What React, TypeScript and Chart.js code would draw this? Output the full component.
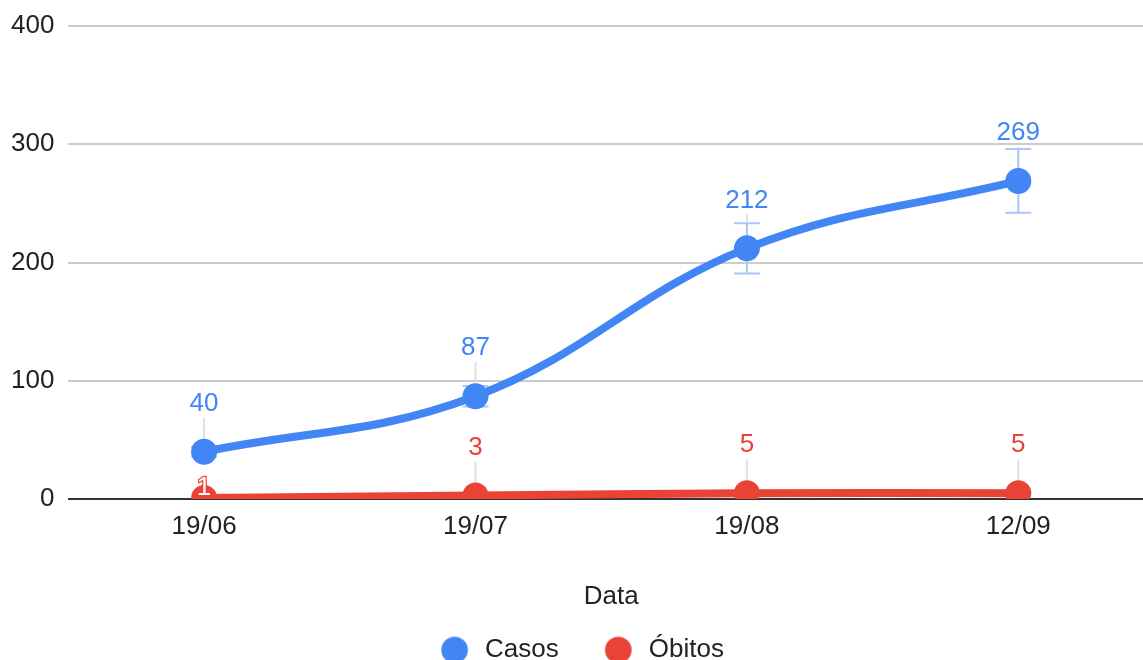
import React, { useEffect, useRef } from 'react';
import { Chart, registerables } from 'chart.js';

Chart.register(...registerables);

const categories = ['19/06', '19/07', '19/08', '12/09'];
const casosValues = [40, 87, 212, 269];
const obitosValues = [1, 3, 5, 5];
const casosErrors = [4, 8.7, 21.2, 26.9];
const yTickValues = [0, 100, 200, 300, 400];
const seriesNames = ['Casos', 'Óbitos'];

const BLUE = '#4285F4';
const RED = '#EA4335';
const TEXT = '#222222';
const FONT = "'Liberation Sans', Arial, sans-serif";
const FONT_SIZE = 26;

function circleImage(color: string, r: number) {
  const c = document.createElement('canvas');
  const size = Math.ceil(r * 2) + 2;
  c.width = size;
  c.height = size;
  const ctx = c.getContext('2d')!;
  ctx.fillStyle = color;
  ctx.beginPath();
  ctx.arc(size / 2, size / 2, r, 0, Math.PI * 2);
  ctx.fill();
  return c;
}

const LABEL_OFFSET = 48;
const POINT_R = 13;

function labelPlacement(chart: any, di: number, i: number) {
  const metas = chart.data.datasets.map((_: any, k: number) => chart.getDatasetMeta(k));
  const pt = metas[di].data[i];
  const ly = pt.y - LABEL_OFFSET;
  const collides = metas.some(
    (m: any, k: number) => k !== di && m.data[i] && Math.abs(m.data[i].y - ly) < POINT_R + 14
  );
  return { pt, ly, inside: collides };
}

const overlayPlugin = {
  id: 'overlay',
  afterLayout(chart: any, _args: any, opts: any) {
    if (chart.legend && opts.legendShift) {
      chart.legend.left += opts.legendShift * 2;
    }
  },
  beforeDatasetsDraw(chart: any, _args: any, opts: any) {
    const ctx = chart.ctx;
    const yScale = chart.scales.y;
    // leader lines
    ctx.save();
    ctx.strokeStyle = '#e0e0e0';
    ctx.lineWidth = 2;
    chart.data.datasets.forEach((ds: any, di: number) => {
      ds.data.forEach((_v: number, i: number) => {
        const { pt, ly, inside } = labelPlacement(chart, di, i);
        if (inside) return;
        ctx.beginPath();
        ctx.moveTo(pt.x, ly + 14);
        ctx.lineTo(pt.x, pt.y);
        ctx.stroke();
      });
    });
    ctx.restore();
    // error bars
    const errs = opts.errors || {};
    Object.keys(errs).forEach((key) => {
      const di = Number(key);
      const meta = chart.getDatasetMeta(di);
      const data = chart.data.datasets[di].data;
      ctx.save();
      ctx.strokeStyle = opts.color;
      ctx.lineWidth = 2;
      meta.data.forEach((pt: any, i: number) => {
        const v = data[i];
        const e = errs[key][i];
        const top = yScale.getPixelForValue(v + e);
        const bot = yScale.getPixelForValue(v - e);
        ctx.beginPath();
        ctx.moveTo(pt.x, top);
        ctx.lineTo(pt.x, bot);
        ctx.moveTo(pt.x - 13, top);
        ctx.lineTo(pt.x + 13, top);
        ctx.moveTo(pt.x - 13, bot);
        ctx.lineTo(pt.x + 13, bot);
        ctx.stroke();
      });
      ctx.restore();
    });
  },
  afterDatasetsDraw(chart: any) {
    const ctx = chart.ctx;
    ctx.save();
    ctx.font = `${FONT_SIZE}px ${FONT}`;
    ctx.textAlign = 'center';
    ctx.textBaseline = 'middle';
    ctx.lineJoin = 'round';
    chart.data.datasets.forEach((ds: any, di: number) => {
      ds.data.forEach((v: number, i: number) => {
        const { pt, ly, inside } = labelPlacement(chart, di, i);
        const text = String(v);
        if (inside) {
          ctx.lineWidth = 2.5;
          ctx.strokeStyle = ds.borderColor;
          ctx.strokeText(text, pt.x, pt.y - 10);
          ctx.fillStyle = '#ffffff';
          ctx.fillText(text, pt.x, pt.y - 10);
        } else {
          ctx.lineWidth = 5;
          ctx.strokeStyle = '#ffffff';
          ctx.strokeText(text, pt.x, ly);
          ctx.fillStyle = ds.borderColor;
          ctx.fillText(text, pt.x, ly);
        }
      });
    });
    ctx.restore();
  },
};

export default function App() {
  const ref = useRef<HTMLCanvasElement | null>(null);

  useEffect(() => {
    if (!ref.current) return;
    const font = { family: FONT, size: FONT_SIZE };
    const chart = new Chart(ref.current, {
      type: 'line',
      data: {
        labels: categories,
        datasets: [
          {
            label: seriesNames[0],
            data: casosValues,
            borderColor: BLUE,
            backgroundColor: BLUE,
            borderWidth: 8,
            tension: 0.4,
            pointRadius: POINT_R,
            pointHoverRadius: POINT_R,
            pointBorderWidth: 0,
            pointBackgroundColor: BLUE,
            clip: 0,
          },
          {
            label: seriesNames[1],
            data: obitosValues,
            borderColor: RED,
            backgroundColor: RED,
            borderWidth: 8,
            tension: 0.4,
            pointRadius: POINT_R,
            pointHoverRadius: POINT_R,
            pointBorderWidth: 0,
            pointBackgroundColor: RED,
            clip: 0,
          },
        ],
      },
      options: {
        responsive: false,
        animation: false,
        events: [],
        layout: { padding: { top: 26, left: -3, right: 0, bottom: -13 } },
        scales: {
          x: {
            type: 'category',
            offset: true,
            grid: { display: false, drawTicks: false },
            border: { display: false },
            ticks: { font, color: TEXT, padding: 12 },
            title: {
              display: true,
              text: 'Data',
              font,
              color: TEXT,
              padding: { top: 27, bottom: -17.5 },
            },
          },
          y: {
            min: 0,
            max: 400,
            afterBuildTicks: (axis: any) => {
              axis.ticks = yTickValues.map((v) => ({ value: v }));
            },
            ticks: { font: { ...font, lineHeight: 0.9 }, color: TEXT, padding: 14 },
            grid: {
              drawTicks: false,
              lineWidth: 2,
              color: (c: any) => (c.tick && c.tick.value === 0 ? '#333333' : '#cccccc'),
            },
            border: { display: false },
          },
        },
        plugins: {
          tooltip: { enabled: false },
          legend: {
            position: 'bottom',
            labels: {
              usePointStyle: true,
              pointStyleWidth: 35,
              boxHeight: 19,
              padding: 42,
              font,
              color: TEXT,
              generateLabels: (ch: any) =>
                ch.data.datasets.map((ds: any, i: number) => ({
                  text: ds.label,
                  pointStyle: circleImage(ds.borderColor, 13.3),
                  fillStyle: ds.borderColor,
                  strokeStyle: ds.borderColor,
                  lineWidth: 0,
                  hidden: false,
                  datasetIndex: i,
                  fontColor: TEXT,
                })),
            },
          },
          overlay: { errors: { 0: casosErrors }, color: '#a9c8fa', legendShift: -1.5 },
        } as any,
      },
      plugins: [overlayPlugin],
    });
    return () => chart.destroy();
  }, []);

  return (
    <div
      style={{
        position: 'absolute',
        left: 0,
        top: 0,
        width: 1143,
        height: 660,
        overflow: 'hidden',
        background: '#ffffff',
      }}
    >
      <canvas ref={ref} width={1167} height={660} style={{ display: 'block' }} />
    </div>
  );
}
